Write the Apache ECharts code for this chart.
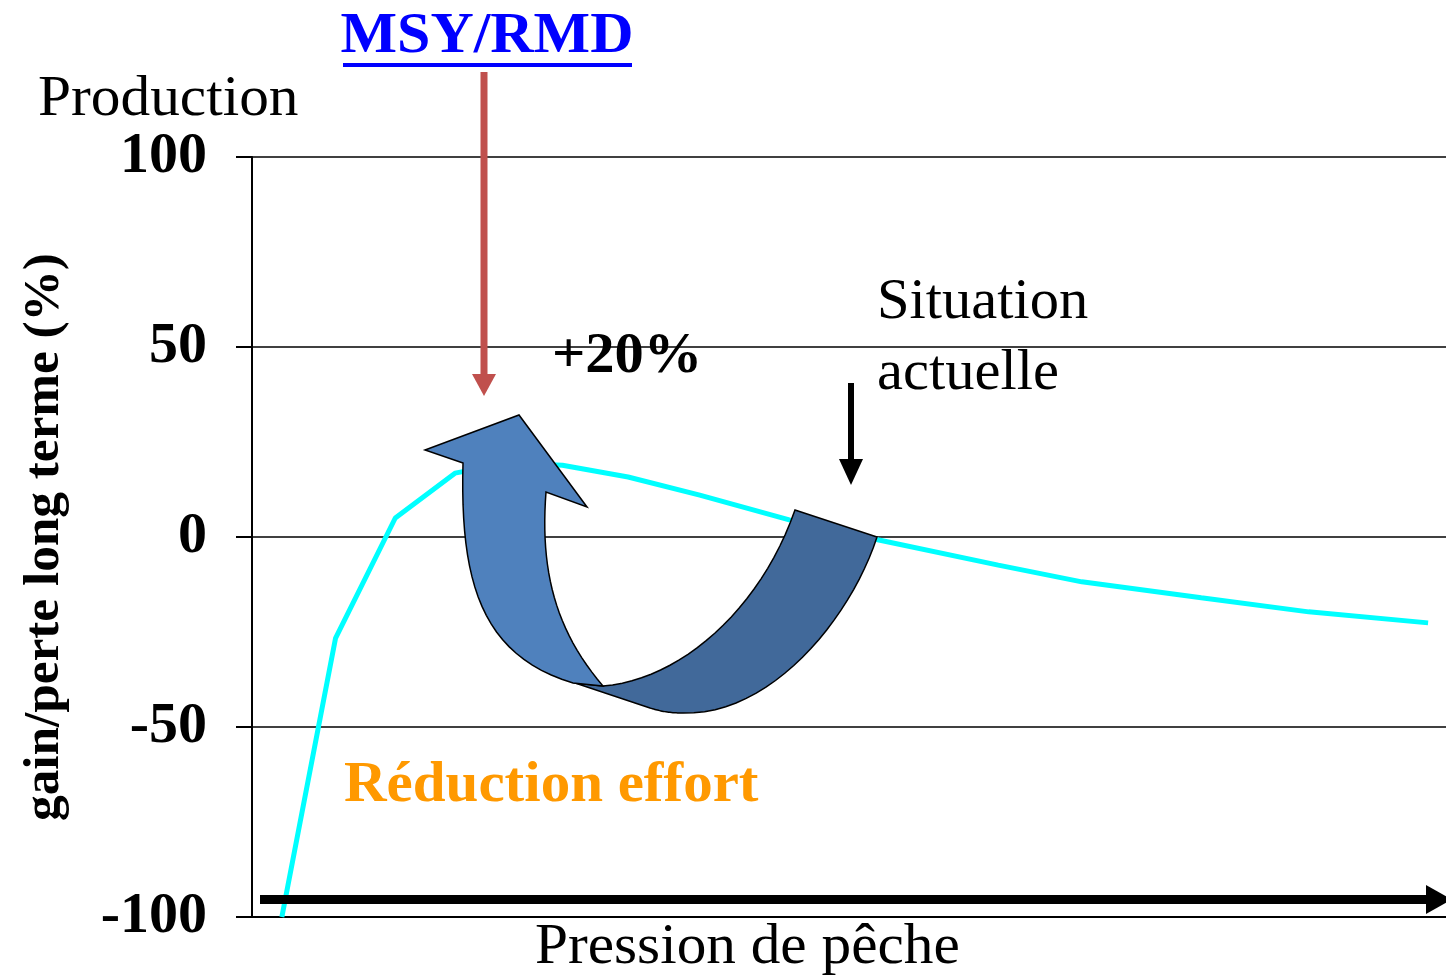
<!DOCTYPE html>
<html>
<head>
<meta charset="utf-8">
<script src="https://cdn.jsdelivr.net/npm/echarts@6/dist/echarts.min.js"></script>
<style>html,body{margin:0;padding:0;background:#fff;}#c{width:1446px;height:977px;}</style>
</head>
<body>
<div id="c"></div>
<script>
// Relative fishing pressure (x) and long-term gain/loss of production in % (y)
const pressure = [0.05, 0.14, 0.24, 0.34, 0.43, 0.52, 0.63, 0.75, 0.90, 1.05, 1.25, 1.39, 1.59, 1.77, 1.97];
const gainLoss = [-100, -26.6, 5, 16.8, 19.5, 18.9, 15.8, 11, 4.5, -0.8, -7.4, -11.8, -16, -19.7, -22.6];
const yTicks = [-100, -50, 0, 50, 100];

const FONT = '"Liberation Serif", "Times New Roman", serif';
const chart = echarts.init(document.getElementById('c'), null, {renderer: 'canvas'});

function txt(text, x, y, size, weight, color, align, sx, extra) {
  return Object.assign({
    type: 'text', z: 120, x: x, y: y, scaleX: sx || 1,
    style: {x: 0, y: 0, text: text, fill: color, font: weight + ' ' + size + 'px ' + FONT,
            textAlign: align || 'left', textVerticalAlign: 'middle'}
  }, extra || {});
}

// build decorative outline from segments: ['L',x,y] or ['C',c1x,c1y,c2x,c2y,x,y]
function outline(start, segs) {
  const pts = [start.slice()];
  let cur = start.slice();
  segs.forEach(s => {
    if (s[0] === 'L') { cur = [s[1], s[2]]; pts.push(cur); }
    else {
      const p0 = cur, p1 = [s[1], s[2]], p2 = [s[3], s[4]], p3 = [s[5], s[6]];
      for (let i = 1; i <= 24; i++) {
        const t = i / 24, u = 1 - t;
        pts.push([
          u*u*u*p0[0] + 3*u*u*t*p1[0] + 3*u*t*t*p2[0] + t*t*t*p3[0],
          u*u*u*p0[1] + 3*u*u*t*p1[1] + 3*u*t*t*p2[1] + t*t*t*p3[1]
        ]);
      }
      cur = p3;
    }
  });
  return pts;
}

const darkBand = outline([795, 510], [
  ['L', 877, 537], ['C', 850, 620, 770, 716, 683, 713], ['C', 668, 713, 660, 711, 650, 708],
  ['L', 575, 683], ['L', 603, 686], ['C', 680, 680, 760, 610, 795, 510]
]);
const lightBand = outline([463, 463], [
  ['L', 425, 450], ['L', 519, 415], ['L', 587, 507], ['L', 546, 492],
  ['C', 540, 570, 555, 630, 603, 686], ['L', 573, 683], ['C', 480, 655, 460, 580, 463, 463]
]);

chart.setOption({
  animation: false,
  backgroundColor: '#fff',
  grid: {left: 252, right: 0, top: 157, bottom: 60, containLabel: false},
  xAxis: {
    type: 'value', min: 0, max: 2,
    axisLine: {show: true, onZero: false, lineStyle: {color: '#000', width: 2}},
    axisTick: {show: false}, axisLabel: {show: false}, splitLine: {show: false}
  },
  yAxis: {
    type: 'value', min: yTicks[0], max: yTicks[yTicks.length - 1], interval: 50,
    axisLine: {show: true, lineStyle: {color: '#000', width: 2}},
    axisTick: {show: true, inside: false, length: 16, lineStyle: {color: '#000', width: 2}},
    axisLabel: {margin: 45, color: '#000', fontFamily: FONT, fontWeight: 'bold', fontSize: 58},
    splitLine: {show: true, lineStyle: {color: '#000', width: 1.5}}
  },
  series: [{
    type: 'line', z: 3,
    data: pressure.map((p, i) => [p, gainLoss[i]]),
    showSymbol: false, symbol: 'none',
    lineStyle: {color: '#00FFFF', width: 5},
    clip: false
  }],
  graphic: [
    {type: 'polygon', z: 100, shape: {points: darkBand},
     style: {fill: '#41699A', stroke: '#000', lineWidth: 1.5}},
    {type: 'polygon', z: 101, shape: {points: lightBand},
     style: {fill: '#4F81BD', stroke: '#000', lineWidth: 1.5}},
    {type: 'rect', z: 110, shape: {x: 480.5, y: 72, width: 7, height: 304}, style: {fill: '#C0504D'}},
    {type: 'polygon', z: 110, shape: {points: [[472, 374], [496, 374], [484, 396]]}, style: {fill: '#C0504D'}},
    {type: 'rect', z: 110, shape: {x: 848, y: 383, width: 6, height: 78}, style: {fill: '#000'}},
    {type: 'polygon', z: 110, shape: {points: [[839, 459], [863, 459], [851, 485]]}, style: {fill: '#000'}},
    {type: 'rect', z: 110, shape: {x: 260, y: 895, width: 1170, height: 9}, style: {fill: '#000'}},
    {type: 'polygon', z: 110, shape: {points: [[1426, 885], [1452, 899.5], [1426, 914]]}, style: {fill: '#000'}},
    {type: 'rect', z: 110, shape: {x: 343, y: 63, width: 289, height: 4}, style: {fill: '#0000FF'}},
    txt('MSY/RMD', 487, 38, 56, 'bold', '#0000FF', 'center', 1.07),
    txt('Production', 38, 100, 56, 'normal', '#000', 'left', 1.06),
    txt('+20%', 552, 358, 56, 'bold', '#000', 'left', 1.045),
    txt('Situation', 877, 303, 56, 'normal', '#000', 'left', 1.045),
    txt('actuelle', 877, 374, 56, 'normal', '#000', 'left', 1.045),
    txt('Réduction effort', 344, 786, 57, 'bold', '#FF9900', 'left', 1.035),
    txt('Pression de pêche', 535, 948, 57, 'normal', '#000', 'left', 1.04),
    txt('gain/perte long terme (%)', 45, 537, 50, 'bold', '#000', 'center', 1.025, {rotation: Math.PI / 2})
  ]
});
</script>
</body>
</html>
